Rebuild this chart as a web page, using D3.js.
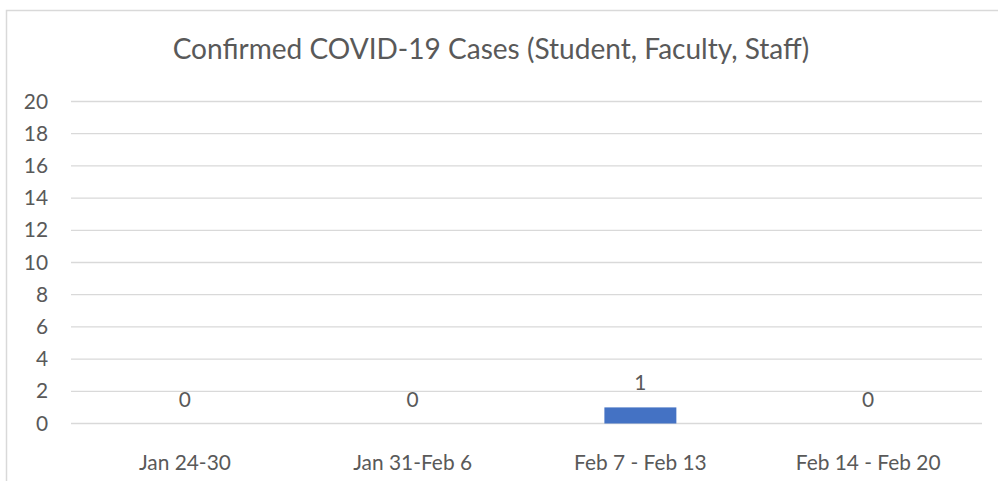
<!DOCTYPE html>
<html>
<head>
<meta charset="utf-8">
<script src="https://cdn.jsdelivr.net/npm/d3@7"></script>
<style>
  body { margin: 0; background: #fff; }
  svg text { font-family: Lato, "Liberation Sans", Arial, sans-serif; fill: #595959; }
</style>
</head>
<body>
<div id="chart"></div>
<script>
// Chart data
const weeks = ["Jan 24-30", "Jan 31-Feb 6", "Feb 7 - Feb 13", "Feb 14 - Feb 20"];
const cases = [0, 0, 1, 0];
const yTicks = [0, 2, 4, 6, 8, 10, 12, 14, 16, 18, 20];
const chartTitle = "Confirmed COVID-19 Cases (Student, Faculty, Staff)";

const W = 998, H = 481;
const margin = { top: 101.5, right: 16, bottom: 57.5, left: 71 };
const width = W - margin.left - margin.right;
const height = H - margin.top - margin.bottom;

const root = d3.select("#chart")
  .append("svg")
  .attr("width", W)
  .attr("height", H);

// pick a font size so a sample string gets the wanted width
function fitSize(str, targetWidth) {
  const t = root.append("text").style("font-size", "20px").text(str);
  const w = t.node().getComputedTextLength();
  t.remove();
  return 20 * targetWidth / w;
}
const titleSize = fitSize(chartTitle, 637);
const labelSize = fitSize("Jan 24-30", 92);

// Outer chart border (cropped on the right and bottom)
root.append("rect")
  .attr("x", 6.5)
  .attr("y", 10.5)
  .attr("width", W + 20)
  .attr("height", H + 20)
  .attr("fill", "none")
  .attr("stroke", "#d9d9d9")
  .attr("stroke-width", 1.5);

// Title
root.append("text")
  .attr("x", 491)
  .attr("y", 59)
  .attr("text-anchor", "middle")
  .style("font-size", titleSize + "px")
  .text(chartTitle);

const svg = root.append("g")
  .attr("transform", `translate(${margin.left},${margin.top})`);

// Scales
const x = d3.scaleBand()
  .domain(weeks)
  .range([0, width])
  .padding(0);

const y = d3.scaleLinear()
  .domain([0, 20])
  .range([height, 0]);

// Gridlines
svg.append("g")
  .selectAll("line")
  .data(yTicks)
  .enter()
  .append("line")
  .attr("x1", 0).attr("x2", width)
  .attr("y1", d => y(d)).attr("y2", d => y(d))
  .attr("stroke", "#d9d9d9")
  .attr("stroke-width", 1.3);

// Y axis labels
const yAxis = svg.append("g")
  .call(d3.axisLeft(y).tickValues(yTicks).tickSize(0).tickPadding(23));
yAxis.select(".domain").remove();
yAxis.selectAll("text")
  .style("font-size", labelSize + "px")
  .attr("fill", "#595959");

// X axis labels
const xAxis = svg.append("g")
  .attr("transform", `translate(0,${height})`)
  .call(d3.axisBottom(x).tickSize(0));
xAxis.select(".domain").remove();
xAxis.selectAll("text")
  .attr("y", 46)
  .attr("dy", null)
  .style("font-size", labelSize + "px")
  .attr("fill", "#595959");

// Bars
const barW = x.bandwidth() * 0.316;
svg.selectAll(".bar")
  .data(weeks)
  .enter()
  .append("rect")
  .attr("class", "bar")
  .attr("x", (d) => x(d) + (x.bandwidth() - barW) / 2)
  .attr("y", (d, i) => y(cases[i]))
  .attr("width", barW)
  .attr("height", (d, i) => y(0) - y(cases[i]))
  .attr("fill", "#4472c4");

// Data labels
svg.selectAll(".lbl")
  .data(weeks)
  .enter()
  .append("text")
  .attr("class", "lbl")
  .attr("x", d => x(d) + x.bandwidth() / 2)
  .attr("y", (d, i) => y(cases[i]) - 17)
  .attr("text-anchor", "middle")
  .style("font-size", labelSize + "px")
  .text((d, i) => cases[i]);
</script>
</body>
</html>
